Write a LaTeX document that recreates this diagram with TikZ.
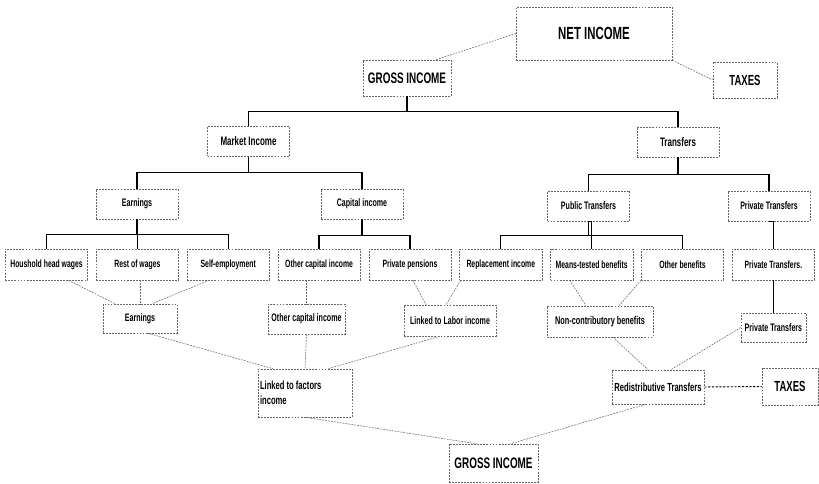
\documentclass[tikz,border=0pt]{standalone}
\usepackage{fontspec}
\setmainfont{Liberation Sans}[FakeStretch=0.65]
\usetikzlibrary{positioning,calc}

\newcommand{\fsz}[1]{\bfseries\fontsize{#1}{1.3\dimexpr#1\relax}\selectfont}

\begin{document}
\begin{tikzpicture}[
  x=0.03cm,y=-0.03cm,
  box/.style={draw=black!60,line width=0.45pt,dash pattern=on 1.6pt off 1pt,inner sep=1pt,align=center,font=\fsz{9.3pt}},
  leaf/.style={box,minimum width=2.47cm,minimum height=0.93cm,font=\fsz{9pt}},
  mid/.style={box,minimum width=2.46cm,minimum height=0.9cm},
  tree/.style={line width=1.1pt},
  flow/.style={draw=black!60,line width=0.5pt,dash pattern=on 1.5pt off 1pt}
]
\useasboundingbox (0,0) rectangle (819,484);

\node[box,minimum width=4.68cm,minimum height=1.59cm,font=\fsz{15pt}] (net) at (594,33.5) {NET INCOME};
\node[box,minimum width=2.64cm,minimum height=1.08cm,font=\fsz{13pt}] (grossT) at (407,78) {GROSS INCOME};
\node[box,minimum width=1.92cm,minimum height=1.08cm,font=\fsz{12.5pt}] (taxT) at (745,80) {TAXES};
\node[mid,font=\fsz{10.5pt}] (market) at (248.5,141.5) {Market Income};
\node[mid,font=\fsz{10.5pt}] (transf) at (678,142) {Transfers};
\node[mid] (earn) at (137,204) {Earnings};
\node[mid] (capinc) at (362,204) {Capital income};
\node[mid] (pubtr) at (588.5,206) {Public Transfers};
\node[mid] (privtr) at (769,206) {Private Transfers};

% income sources
\node[leaf] (hhw) at (46.5,264.5) {Houshold head wages};
\node[leaf,right=0.24cm of hhw] (rest) {Rest of wages};
\node[leaf,right=0.24cm of rest] (selfemp) {Self-employment};
\node[leaf,right=0.24cm of selfemp] (ocap) {Other capital income};
\node[leaf,right=0.24cm of ocap] (ppen) {Private pensions};
\node[leaf,right=0.24cm of ppen] (repl) {Replacement income};
\node[leaf,right=0.24cm of repl] (means) {Means-tested benefits};
\node[leaf,right=0.24cm of means] (othben) {Other benefits};
\node[leaf,right=0.24cm of othben] (privtrB) {Private Transfers.};

% regrouping
\node[box,minimum width=2.22cm,minimum height=0.87cm] (earnB) at (140,318.5) {Earnings};
\node[box,minimum width=2.31cm,minimum height=0.9cm] (ocapB) at (306.5,319) {Other capital income};
\node[box,minimum width=2.76cm,minimum height=0.93cm] (labor) at (450,320.5) {Linked to Labor income};
\node[box,minimum width=3.18cm,minimum height=0.93cm,font=\fsz{9.6pt}] (noncon) at (600,321.5) {Non-contributory benefits};
\node[box,minimum width=1.95cm,minimum height=0.87cm] (privtrC) at (privtrB |- 0,327.5) {Private Transfers};
\node[box,minimum width=2.82cm,minimum height=1.44cm,text width=2.7cm,align=flush left,font=\fsz{10pt}] (factors) at (305,393) {Linked to factors\\income};
\node[box,minimum width=2.76cm,minimum height=1.02cm,font=\fsz{10pt}] (redis) at (658,387) {Redistributive Transfers};
\node[box,minimum width=1.68cm,minimum height=1.11cm,font=\fsz{12.5pt}] (taxB) at (790,386.5) {TAXES};
\node[box,minimum width=2.67cm,minimum height=1.14cm,font=\fsz{13pt}] (grossB) at (493.5,463) {GROSS INCOME};

% tree
\draw[tree] (grossT.south) -- ++(0,15) -| (market.north);
\draw[tree] (grossT.south) -- ++(0,15) -| (transf.north);
\draw[tree] (market.south) -- ++(0,16) -| (earn.north);
\draw[tree] (market.south) -- ++(0,16) -| (capinc.north);
\draw[tree] (transf.south) -- ++(0,17) -| (pubtr.north);
\draw[tree] (transf.south) -- ++(0,17) -| (privtr.north);
\draw[tree] (earn.south) -- ++(0,15) -| (hhw.north);
\draw[tree] (rest.north) |- (earn.south);
\draw[tree] (earn.south) -- ++(0,15) -| (selfemp.north);
\draw[tree] (capinc.south) -- ++(0,16) -| (ocap.north);
\draw[tree] (capinc.south) -- ++(0,16) -| (ppen.north);
\draw[tree] (pubtr.south) -- ++(0,14) -| (repl.north);
\draw[tree] (means.north) |- (pubtr.south);
\draw[tree] (pubtr.south) -- ++(0,14) -| (othben.north);
\draw[tree] (privtrB.north) |- (privtr.south);
\draw[tree] (privtrB.south) -- (privtrC.north);

% flows
\draw[flow] (net.west) -- ($(grossT.north)+(29,0)$);
\draw[flow] (net.south east) -- (taxT.west);
\draw[flow] ($(hhw.south)+(22,0)$) -- ($(earnB.north)+(-25,0)$);
\draw[flow] (rest.south -| earnB.north) -- (earnB.north);
\draw[flow] ($(selfemp.south)+(-19,0)$) -- ($(earnB.north)+(12,0)$);
\draw[flow] (ocap.south -| ocapB.north) -- (ocapB.north);
\draw[flow] ($(ppen.south)+(3,0)$) -- ($(labor.north)+(-24,0)$);
\draw[flow] ($(repl.south)+(-40,0)$) -- ($(labor.north)+(-4,0)$);
\draw[flow] ($(means.south)+(-22,0)$) -- ($(noncon.north)+(-14,0)$);
\draw[flow] (othben.south west) -- ($(noncon.north)+(19,0)$);
\draw[flow] ($(earnB.south)+(8,0)$) -- ($(factors.north)+(-32,0)$);
\draw[flow] (ocapB.south) -- (factors.north);
\draw[flow] ($(labor.south)+(-10,0)$) -- ($(factors.north)+(23,0)$);
\draw[flow] ($(noncon.south)+(13,0)$) -- ($(redis.north)+(-10,0)$);
\draw[flow] (privtrC.west) -- ($(redis.north)+(13,0)$);
\draw[flow] (factors.south) -- ($(grossB.north)+(-17,0)$);
\draw[flow] ($(redis.south)+(-12,0)$) -- ($(grossB.north)+(17,0)$);
\draw[line width=0.8pt,dash pattern=on 2pt off 1.2pt] (redis.east) -- (taxB.west);
\end{tikzpicture}
\end{document}
